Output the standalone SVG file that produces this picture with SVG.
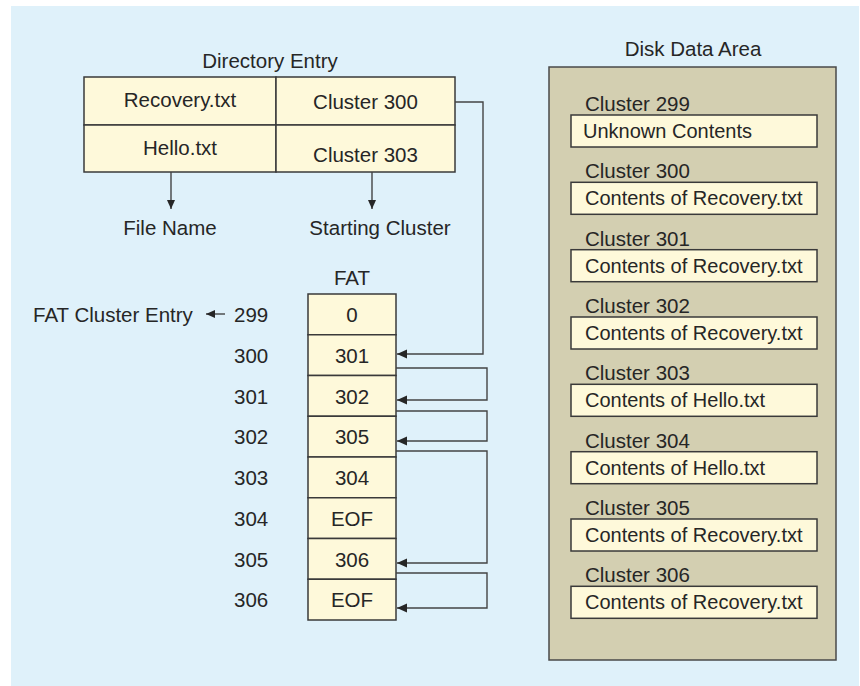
<svg xmlns="http://www.w3.org/2000/svg" width="860" height="686" viewBox="0 0 860 686">
<style>
text{font-family:"Liberation Sans",Arial,Helvetica,sans-serif;font-size:20.5px;fill:#262626}
.c{text-anchor:middle}
.t{font-size:20px}
.cell{fill:#fef9da;stroke:#3a3a3a;stroke-width:1.5}
.disk{fill:#d3cfb1;stroke:#4a4a4a;stroke-width:1.5}
.ln{fill:none;stroke:#444;stroke-width:1.4}
</style>
<defs>
<marker id="ah" markerUnits="userSpaceOnUse" markerWidth="10" markerHeight="10" viewBox="0 0 10 10" refX="10" refY="5" orient="auto">
<path d="M0,0.5 L10,5 L0,9.5 Z" fill="#262626"/>
</marker>
<marker id="ahs" markerUnits="userSpaceOnUse" markerWidth="9" markerHeight="9" viewBox="0 0 9 9" refX="9" refY="4.5" orient="auto">
<path d="M0,0.5 L9,4.5 L0,8.5 Z" fill="#262626"/>
</marker>
</defs>
<rect x="11" y="6" width="848" height="680" fill="#dff1fa"/>

<g id="directory-entry">
<text class="c" x="270" y="68">Directory Entry</text>
<rect class="cell" x="84" y="77" width="192" height="48"/>
<rect class="cell" x="276" y="77" width="179" height="48"/>
<rect class="cell" x="84" y="125" width="192" height="47"/>
<rect class="cell" x="276" y="125" width="179" height="47"/>
<text class="c" x="180" y="106.5">Recovery.txt</text>
<text class="c" x="365.5" y="109">Cluster 300</text>
<text class="c" x="180" y="155">Hello.txt</text>
<text class="c" x="365.5" y="162">Cluster 303</text>
</g>

<g id="field-labels">
<text class="c" x="170" y="235">File Name</text>
<text class="c" x="380" y="235">Starting Cluster</text>
<text x="33" y="322">FAT Cluster Entry</text>
</g>

<g id="fat">
<text class="c" x="352" y="285">FAT</text>
<rect class="cell" x="308" y="294" width="88" height="40.75"/>
<rect class="cell" x="308" y="334.75" width="88" height="40.75"/>
<rect class="cell" x="308" y="375.5" width="88" height="40.75"/>
<rect class="cell" x="308" y="416.25" width="88" height="40.75"/>
<rect class="cell" x="308" y="457" width="88" height="40.75"/>
<rect class="cell" x="308" y="497.75" width="88" height="40.75"/>
<rect class="cell" x="308" y="538.5" width="88" height="40.75"/>
<rect class="cell" x="308" y="579.25" width="88" height="40.75"/>
<text class="c" x="352" y="322">0</text>
<text class="c" x="352" y="362.5">301</text>
<text class="c" x="352" y="403.5">302</text>
<text class="c" x="352" y="444">305</text>
<text class="c" x="352" y="485">304</text>
<text class="c" x="352" y="525.5">EOF</text>
<text class="c" x="352" y="566.5">306</text>
<text class="c" x="352" y="607">EOF</text>
<text x="234" y="322">299</text>
<text x="234" y="362.5">300</text>
<text x="234" y="403.5">301</text>
<text x="234" y="444">302</text>
<text x="234" y="485">303</text>
<text x="234" y="525.5">304</text>
<text x="234" y="566.5">305</text>
<text x="234" y="607">306</text>
</g>

<g id="disk-data-area">
<text class="c" x="693" y="56">Disk Data Area</text>
<rect class="disk" x="549" y="67" width="287" height="593"/>
<text x="585" y="111">Cluster 299</text>
<rect class="cell" x="571" y="115" width="246" height="32"/>
<text class="t" x="583" y="138">Unknown Contents</text>
<text x="585" y="178.3">Cluster 300</text>
<rect class="cell" x="571" y="182.3" width="246" height="32"/>
<text class="t" x="585" y="205.3">Contents of Recovery.txt</text>
<text x="585" y="245.7">Cluster 301</text>
<rect class="cell" x="571" y="249.7" width="246" height="32"/>
<text class="t" x="585" y="272.7">Contents of Recovery.txt</text>
<text x="585" y="313">Cluster 302</text>
<rect class="cell" x="571" y="317" width="246" height="32"/>
<text class="t" x="585" y="340">Contents of Recovery.txt</text>
<text x="585" y="380.3">Cluster 303</text>
<rect class="cell" x="571" y="384.3" width="246" height="32"/>
<text class="t" x="585" y="407.3">Contents of Hello.txt</text>
<text x="585" y="447.7">Cluster 304</text>
<rect class="cell" x="571" y="451.7" width="246" height="32"/>
<text class="t" x="585" y="474.7">Contents of Hello.txt</text>
<text x="585" y="515">Cluster 305</text>
<rect class="cell" x="571" y="519" width="246" height="32"/>
<text class="t" x="585" y="542">Contents of Recovery.txt</text>
<text x="585" y="582.3">Cluster 306</text>
<rect class="cell" x="571" y="586.3" width="246" height="32"/>
<text class="t" x="585" y="609.3">Contents of Recovery.txt</text>
</g>

<g id="connectors">
<path class="ln" d="M171,172 V209" marker-end="url(#ahs)"/>
<path class="ln" d="M372,172 V209" marker-end="url(#ahs)"/>
<path class="ln" d="M225,314 H206" marker-end="url(#ahs)"/>
<path class="ln" d="M455,102 H483 V354 H397" marker-end="url(#ah)"/>
<path class="ln" d="M396,368 H487 V400 H397" marker-end="url(#ah)"/>
<path class="ln" d="M396,411 H487 V441 H397" marker-end="url(#ah)"/>
<path class="ln" d="M396,451 H487 V563 H397" marker-end="url(#ah)"/>
<path class="ln" d="M396,573 H487 V608 H397" marker-end="url(#ah)"/>
</g>
</svg>
